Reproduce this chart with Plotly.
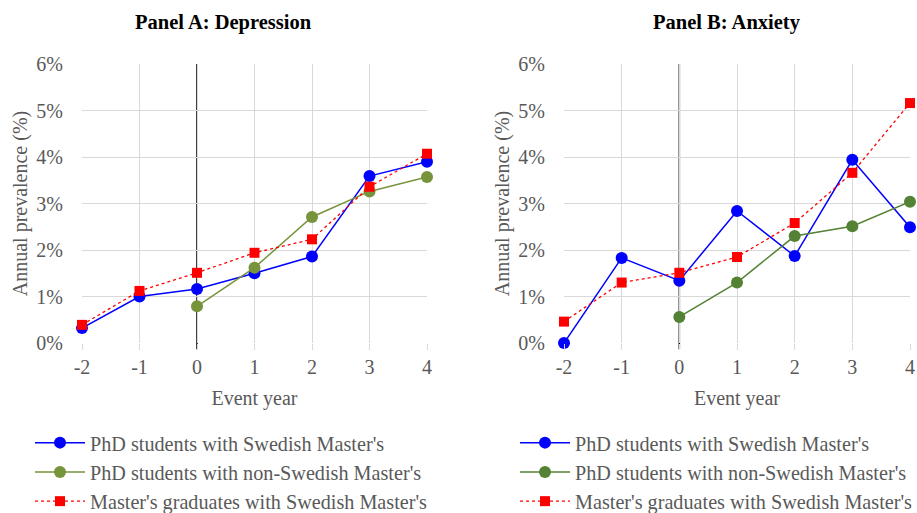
import plotly.graph_objects as go

years = [-2, -1, 0, 1, 2, 3, 4]
years_post = [0, 1, 2, 3, 4]

# Panel A: Depression (prevalence in %)
dep_phd_swe = [0.32, 1.00, 1.16, 1.50, 1.86, 3.59, 3.90]
dep_phd_nonswe = [0.79, 1.62, 2.71, 3.26, 3.57]
dep_master = [0.39, 1.12, 1.51, 1.94, 2.23, 3.36, 4.07]

# Panel B: Anxiety (prevalence in %)
anx_phd_swe = [0.00, 1.83, 1.34, 2.84, 1.87, 3.94, 2.49]
anx_phd_nonswe = [0.56, 1.30, 2.30, 2.51, 3.04]
anx_master = [0.46, 1.30, 1.51, 1.85, 2.58, 3.66, 5.16]

names = ["PhD students with Swedish Master's",
         "PhD students with non-Swedish Master's",
         "Master's graduates with Swedish Master's"]
titles = ["Panel A: Depression", "Panel B: Anxiety"]
y_ticks = [0, 1, 2, 3, 4, 5, 6]
y_ticklabels = ["0%", "1%", "2%", "3%", "4%", "5%", "6%"]

FONT = "Liberation Serif"
GRAY = "#595959"
GRID = "#D9D9D9"
W, H = 917, 513


def px(v):
    return v / W


def py(v):
    return 1 - v / H


fig = go.Figure()

panels = [
    (dep_phd_swe, dep_phd_nonswe, dep_master, "#77933C", "x", "y", "legend"),
    (anx_phd_swe, anx_phd_nonswe, anx_master, "#548235", "x2", "y2", "legend2"),
]
for swe, nonswe, mast, green, xa, ya, leg in panels:
    fig.add_trace(go.Scatter(x=years, y=swe, name=names[0], mode="lines+markers",
                             line=dict(color="#0000FF", width=1.5),
                             marker=dict(color="#0000FF", size=12, symbol="circle"),
                             xaxis=xa, yaxis=ya, legend=leg, cliponaxis=False,
                             legendgroup=leg + "a"))
    fig.add_trace(go.Scatter(x=years_post, y=nonswe, name=names[1], mode="lines+markers",
                             line=dict(color=green, width=1.5),
                             marker=dict(color=green, size=12, symbol="circle"),
                             xaxis=xa, yaxis=ya, legend=leg, cliponaxis=False,
                             legendgroup=leg + "b"))
    fig.add_trace(go.Scatter(x=years, y=mast, name=names[2], mode="lines+markers",
                             line=dict(color="#FF0000", width=1.3, dash="dot"),
                             marker=dict(color="#FF0000", size=10, symbol="square"),
                             xaxis=xa, yaxis=ya, legend=leg, cliponaxis=False,
                             legendgroup=leg + "c"))

ydom = [py(343), py(64)]
xdomA = [px(82), px(427)]
xdomB = [px(564), px(910)]

xcommon = dict(range=[-2, 4], tickvals=years, ticktext=[str(v) for v in years],
               showgrid=True, gridcolor=GRID, gridwidth=1, zeroline=False,
               showline=False, ticks="outside", ticklen=6, tickcolor=GRID,
               automargin=False, ticklabelstandoff=0,
               tickfont=dict(family=FONT, size=20, color=GRAY),
               title=dict(text="Event year", font=dict(family=FONT, size=20, color=GRAY), standoff=13))
ycommon = dict(range=[0, 6], tickvals=y_ticks, ticktext=y_ticklabels,
               showgrid=True, gridcolor=GRID, gridwidth=1, zeroline=False,
               showline=False, ticks="", automargin=False, ticklabelstandoff=18,
               tickfont=dict(family=FONT, size=20, color=GRAY),
               title=dict(text="Annual prevalence (%)", font=dict(family=FONT, size=20, color=GRAY), standoff=3))

legcommon = dict(font=dict(family=FONT, size=20.2, color=GRAY), bgcolor="rgba(0,0,0,0)",
                 yanchor="top", xanchor="left", tracegroupgap=0, traceorder="grouped",
                 itemwidth=50)

fig.update_layout(
    width=W, height=H,
    margin=dict(l=0, r=0, t=0, b=0, pad=0, autoexpand=False),
    plot_bgcolor="white", paper_bgcolor="white",
    xaxis=dict(domain=xdomA, anchor="y", **xcommon),
    yaxis=dict(domain=ydom, anchor="x", **ycommon),
    xaxis2=dict(domain=xdomB, anchor="y2", **xcommon),
    yaxis2=dict(domain=ydom, anchor="x2", **ycommon),
    legend=dict(x=px(30), y=py(423), **legcommon),
    legend2=dict(x=px(515), y=py(423), **legcommon),
    shapes=[
        dict(type="line", xref="x", yref="y domain", x0=0, x1=0, y0=-0.022, y1=1,
             line=dict(color="black", width=1.5), layer="below"),
        dict(type="line", xref="x2", yref="y2 domain", x0=0, x1=0, y0=-0.022, y1=1,
             line=dict(color="black", width=1.5), layer="below"),
    ],
    annotations=[
        dict(text="<b>" + titles[0] + "</b>", x=px(223), y=py(22), xref="paper", yref="paper",
             xanchor="center", yanchor="middle",
             showarrow=False, font=dict(family=FONT, size=20.5, color="black")),
        dict(text="<b>" + titles[1] + "</b>", x=px(727), y=py(22), xref="paper", yref="paper",
             xanchor="center", yanchor="middle",
             showarrow=False, font=dict(family=FONT, size=20.5, color="black")),
    ],
)

fig.write_html("out.html", config={"displayModeBar": False},
               post_script="document.body.style.margin='0';document.body.style.overflow='hidden';")
